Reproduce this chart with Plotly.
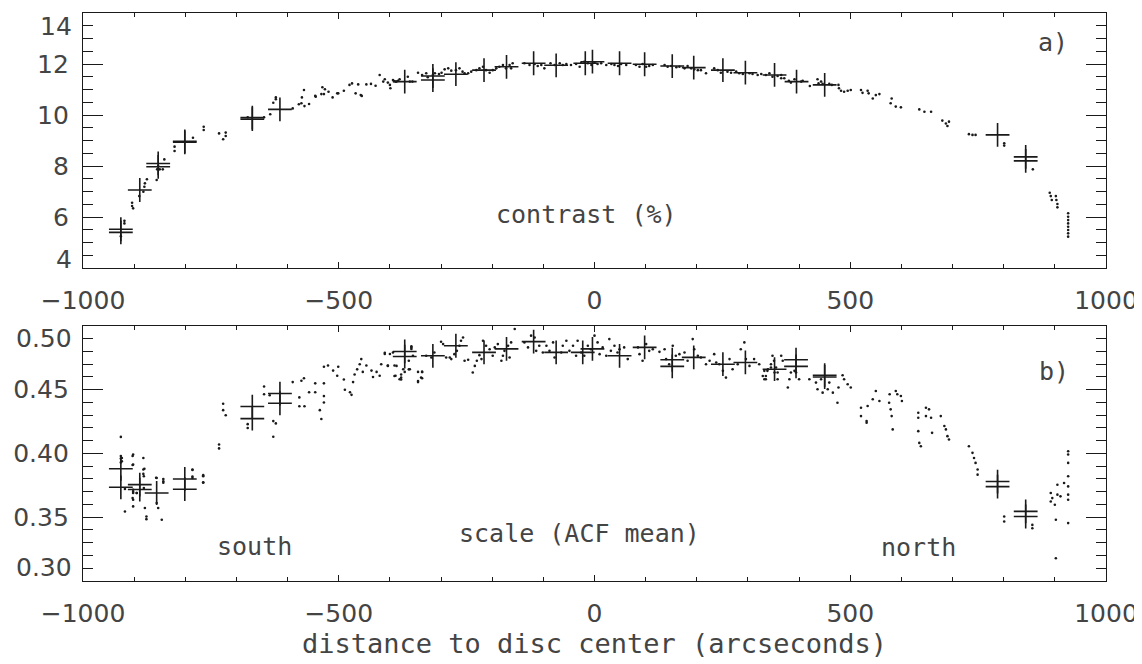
import plotly.graph_objects as go

# ---------------- data: panel a) contrast (%) ----------------
contrast_dot_x = [-919, -919, -926, -904, -904, -902, -890, -882, -880, -879, -875, -856, -855, -850, -844, -853, -841,
                  -821, -821, -785, -764, -764, -734, -721, -721, -726, -678, -646, -634, -628, -623, -623, -590, -578,
                  -573, -567, -558, -572, -568, -546, -545, -534, -529, -532, -527, -520, -512, -503, -501, -490, -479,
                  -474, -467, -462, -457, -455, -446, -437, -428, -420, -413, -404, -399, -392, -387,
                  -410, -400, -394, -389, -384, -381, -365, -361, -356,
                  -345, -337, -329, -326, -316, -312, -304, -299, -293, -286,
                  -280, -271, -264, -258, -254, -247, -241, -231, -225, -218,
                  -212, -205, -199, -192, -186, -179, -173, -166, -160, -163,
                  -137, -127, -117, -111, -104, -98,
                  -86, -78, -68, -62, -55, -46, -36, -29, -26, -20, -13, -6, 0, 6, 13, 23, 33, 39, 46, 52, 62,
                  81, 88, 94, 101, 107, 114,
                  137, 143, 150, 160, 166, 176, 182, 189, 195, 202, 208, 218,
                  234, 241, 247, 260, 267,
                  277, 283, 290, 303, 309, 319, 326, 335, 342, 348, 358,
                  365, 365, 371, 380, 384, 391, 404, 407, 421,
                  436, 438, 443, 446, 459, 464,
                  477, 478, 482, 488, 495, 501,
                  521, 524, 534, 536, 544, 550, 557,
                  581, 579, 589, 599,
                  635, 645, 658,
                  680, 687, 690, 693,
                  732, 739, 745,
                  801, 801, 857,
                  890, 892, 894, 902, 903, 905, 905,
                  926, 926, 926, 926, 926, 926, 926, 926]
contrast_dot_y = [5.85, 5.75, 5.25, 6.56, 6.43, 6.34, 6.82, 6.99, 7.19, 7.32, 7.48, 7.45, 7.87, 7.87, 7.87, 8.0, 8.26,
                  8.76, 8.59, 9.11, 9.54, 9.41, 9.28, 9.31, 9.18, 9.05, 9.91, 9.91, 10.03, 10.48, 10.69, 10.62, 10.26, 10.42,
                  10.46, 10.35, 10.43, 10.69, 10.98, 10.75, 10.72, 10.82, 10.82, 11.09, 11.01, 10.91, 10.69, 10.85, 10.85, 10.95, 11.18,
                  11.24, 10.85, 11.20, 10.78, 10.75, 11.20, 11.22, 11.15, 11.57, 11.31, 11.27, 11.05, 11.33, 11.31,
                  11.40, 11.18, 11.37, 11.31, 11.34, 11.40, 11.50, 11.31, 11.31,
                  11.66, 11.57, 11.64, 11.48, 11.57, 11.64, 11.61, 11.66, 11.79, 11.83,
                  11.74, 11.76, 11.83, 11.70, 11.64, 11.64, 11.70, 11.76, 11.83, 11.89,
                  11.76, 11.66, 11.76, 11.83, 11.89, 11.96, 11.83, 11.96, 12.03, 11.83,
                  12.03, 11.96, 12.00, 11.92, 11.96, 11.83,
                  12.03, 11.96, 12.03, 11.96, 12.00, 11.96, 12.00, 11.89, 12.05, 12.09, 12.03, 11.96, 12.05, 12.00, 12.03, 11.96, 12.00, 11.96, 11.92, 12.00, 11.96,
                  11.96, 11.89, 12.00, 11.89, 11.92, 11.96,
                  11.96, 11.89, 11.92, 11.87, 11.89, 11.83, 11.92, 11.83, 11.79, 11.76, 11.76, 11.64,
                  11.83, 11.76, 11.66, 11.70, 11.66,
                  11.70, 11.64, 11.61, 11.64, 11.61, 11.57, 11.61, 11.57, 11.64, 11.50, 11.53,
                  11.57, 11.44, 11.44, 11.34, 11.27, 11.40, 11.31, 11.34, 11.14,
                  11.40, 11.24, 11.31, 11.22, 11.22, 11.18,
                  11.18, 11.05, 10.95, 10.91, 10.95, 10.98,
                  10.98, 10.87, 10.95, 10.85, 10.65, 10.78, 10.82,
                  10.65, 10.46, 10.33, 10.30,
                  10.22, 10.13, 10.13,
                  9.78, 9.67, 9.57, 9.74,
                  9.25, 9.22, 9.22,
                  8.89, 8.80, 7.87,
                  6.95, 6.82, 6.67, 6.82, 6.67, 6.51, 6.38,
                  6.15, 6.01, 5.88, 5.75, 5.62, 5.49, 5.36, 5.23]

contrast_mean_x = [-926, -926, -889, -853, -853, -801, -801, -669, -669, -615, -371, -316, -316, -271, -216, -172,
                   -119, -75, -18, -4, 49, 98, 152, 194, 251, 295, 352, 395, 450, 788, 843, 843]
contrast_mean_y = [5.52, 5.40, 7.06, 8.10, 7.97, 8.97, 8.93, 9.90, 9.84, 10.22, 11.31, 11.53, 11.37, 11.60, 11.76, 11.89,
                   12.03, 11.95, 12.03, 12.09, 12.03, 11.99, 11.92, 11.86, 11.76, 11.66, 11.57, 11.31, 11.18, 9.22, 8.36, 8.20]

# ---------------- data: panel b) scale (ACF mean) ----------------
scale_dot_x = [-926, -926, -926, -926, -924, -924, -918, -918, -903, -903, -902, -902, -902, -902, -902, -895,
               -882, -882, -881, -881, -879, -876, -876, -880, -882, -902, -902, -903, -895,
               -857, -856, -856, -853, -846, -843, -843, -843,
               -786, -786, -786, -786, -765, -765, -765, -765, -734, -734, -726, -726, -721, -678, -678,
               -646, -646, -635, -628, -623, -628,
               -590, -577, -577, -573, -568, -567, -558, -546, -546, -537, -534, -529, -529, -529,
               -529, -521, -511, -501, -503, -490, -488, -478, -475, -472, -469, -464, -459, -456, -453, -446, -436, -433, -426, -420,
               -410, -400, -404, -391, -389, -378, -378, -371, -363, -358, -358, -345, -337, -345, -337,
               -417, -410, -404, -394, -391, -387, -381, -378, -374, -363, -361, -358, -355, -345, -339, -337,
               -329, -319, -313, -300, -296, -290, -283, -280, -274, -269, -264, -261, -257, -254, -247,
               -238, -234, -230, -225, -221, -218, -212, -205, -199, -195, -189, -182, -179, -176, -169, -166, -163, -156,
               -137, -130, -124, -117, -114, -108, -101, -94, -88, -81, -78, -65, -62, -55, -49, -42, -36, -33, -26, -20,
               -13, -7, 0, 6, 10, 16, 23, 29, 32, 39, 45, 49, 58, 65, 85, 88, 94, 101, 107, 114, 127,
               137, 140, 146, 153, 159, 166, 176, 182, 192, 195, 202, 208, 218, 225, 234, 238, 244, 251, 257, 264,
               270, 280, 286, 293, 296, 303, 312, 322, 332, 335, 338, 345, 351, 358,
               329, 332, 335, 339, 345, 348, 352, 355, 358, 365, 368, 378, 381, 384, 391, 394, 400,
               420, 433, 436, 443, 446, 456, 459, 466, 475, 477, 485, 488, 495, 501,
               521, 521, 532, 532, 534, 544, 550, 557, 576, 577, 579, 581, 583, 589, 592, 599, 601,
               633, 633, 633, 635, 638, 648, 648, 654, 658, 660, 677, 684, 687, 690, 693,
               732, 739, 742, 745, 749, 749, 801, 801, 856, 856,
               892, 892, 895, 900, 905, 905, 902, 902, 911, 918,
               926, 926, 926, 926, 926, 926, 926, 926]
scale_dot_y = [0.413, 0.398, 0.396, 0.393, 0.3965, 0.3939, 0.3721, 0.3545, 0.398, 0.391, 0.3992, 0.3913, 0.3716, 0.3637, 0.3585, 0.3690,
               0.3965, 0.3874, 0.3821, 0.3729, 0.3572, 0.3506, 0.3485, 0.388, 0.384, 0.370, 0.369, 0.365, 0.369,
               0.381, 0.3808, 0.3611, 0.3572, 0.3480, 0.3782, 0.380, 0.377,
               0.3874, 0.3808, 0.387, 0.382, 0.3821, 0.3774, 0.383, 0.377, 0.407, 0.404, 0.439, 0.434, 0.430, 0.423, 0.420,
               0.4525, 0.4465, 0.4457, 0.4254, 0.4236, 0.4131,
               0.456, 0.444, 0.437, 0.457, 0.459, 0.437, 0.448, 0.455, 0.448, 0.434, 0.427, 0.445, 0.440, 0.455,
               0.468, 0.469, 0.465, 0.468, 0.461, 0.458, 0.450, 0.448, 0.446, 0.456, 0.462, 0.466, 0.470, 0.474, 0.464, 0.469, 0.465, 0.460, 0.464, 0.461,
               0.479, 0.478, 0.469, 0.469, 0.461, 0.458, 0.462, 0.464, 0.466, 0.484, 0.482, 0.464, 0.464, 0.456, 0.459,
               0.470, 0.478, 0.4687, 0.4792, 0.4608, 0.4687, 0.4582, 0.4595, 0.4661, 0.4727, 0.4661, 0.4832, 0.4766, 0.4569, 0.4595, 0.4640,
               0.4766, 0.4753, 0.4792, 0.4876, 0.4858, 0.4753, 0.4753, 0.4740, 0.4779, 0.4805, 0.4845, 0.4884, 0.4910, 0.4727, 0.4735,
               0.4635, 0.4687, 0.4727, 0.4771, 0.4740, 0.4884, 0.4845, 0.4818, 0.4766, 0.4832, 0.4858, 0.4727, 0.4766, 0.4805, 0.4845, 0.4753, 0.4871, 0.4976,
               0.4871, 0.4832, 0.4924, 0.4910, 0.4805, 0.4845, 0.4792, 0.4845, 0.4805, 0.4871, 0.4753, 0.4792, 0.4845, 0.4884, 0.4805, 0.4845, 0.4766, 0.4884, 0.4792, 0.4766,
               0.4845, 0.4818, 0.4924, 0.4871, 0.4779, 0.4832, 0.4766, 0.4897, 0.4805, 0.4845, 0.4792, 0.4818, 0.4832, 0.4740, 0.4832, 0.4779, 0.4727, 0.4858, 0.4805, 0.4818, 0.4797,
               0.4818, 0.4740, 0.4700, 0.4845, 0.4766, 0.4779, 0.4792, 0.4727, 0.4897, 0.4818, 0.4766, 0.4753, 0.4700, 0.4727, 0.4779, 0.4714, 0.4700, 0.4648, 0.4595, 0.4740,
               0.4661, 0.4700, 0.4818, 0.4871, 0.4740, 0.4687, 0.4740, 0.4700, 0.4582, 0.4608, 0.4648, 0.4674, 0.4727, 0.4635,
               0.4608, 0.4648, 0.4582, 0.4661, 0.4700, 0.4766, 0.4635, 0.4674, 0.4582, 0.4766, 0.4727, 0.4517, 0.4582, 0.4635, 0.4648, 0.4635, 0.4582,
               0.4582, 0.4556, 0.4504, 0.4582, 0.4477, 0.4504, 0.4556, 0.4477, 0.4398, 0.4517, 0.4614, 0.4582, 0.4543, 0.4517,
               0.4359, 0.4293, 0.4254, 0.4241, 0.4372, 0.4425, 0.4490, 0.4412, 0.4398, 0.4464, 0.4346, 0.4293, 0.4189, 0.4490, 0.4464, 0.4451, 0.4412,
               0.4320, 0.4280, 0.4175, 0.4083, 0.4057, 0.4359, 0.4293, 0.4346, 0.4280, 0.4162, 0.4293, 0.4215, 0.4189, 0.4136, 0.4110,
               0.4057, 0.4005, 0.3965, 0.3926, 0.3874, 0.3834, 0.3506, 0.3467, 0.3440, 0.3414,
               0.3690, 0.3624, 0.3650, 0.3598, 0.3755, 0.3677, 0.3480, 0.3178, 0.3664, 0.3769,
               0.4018, 0.3992, 0.3926, 0.3821, 0.3742, 0.3677, 0.3637, 0.3454]

scale_mean_x = [-926, -926, -889, -889, -856, -801, -801, -669, -669, -615, -615, -371, -371, -316, -271, -216, -172,
                -119, -75, -23, -4, 49, 98, 152, 152, 194, 251, 295, 352, 394, 394, 450, 450, 788, 788, 843, 843]
scale_mean_y = [0.388, 0.3735, 0.3756, 0.3717, 0.369, 0.380, 0.372, 0.4368, 0.4273, 0.447, 0.4394, 0.480, 0.476, 0.4766,
                0.4845, 0.4793, 0.482, 0.4877, 0.4793, 0.4793, 0.482, 0.4766, 0.4832, 0.4735, 0.4683, 0.4754, 0.470,
                0.4714, 0.4661, 0.4735, 0.4683, 0.4614, 0.4600, 0.378, 0.374, 0.3546, 0.3506]

x_ticks = [-1000, -500, 0, 500, 1000]
contrast_ticks = [4, 6, 8, 10, 12, 14]
contrast_ticktext = ["4", "6", "8", "10", "12", "14"]
scale_ticks = [0.30, 0.35, 0.40, 0.45, 0.50]
scale_ticktext = ["0.30", "0.35", "0.40", "0.45", "0.50"]

INK = "#1a1a1a"
TXT = "#444444"
FONT = "DejaVu Sans"
TEXTFONT = "DejaVu Sans Mono"
TICKFONT = dict(family=FONT, size=25, color=TXT)

fig = go.Figure()
dot_marker = dict(symbol="circle", size=2.6, color=INK, line=dict(width=0))
cross_marker = dict(symbol="cross-thin", size=17, color=INK, line=dict(width=1.6, color=INK))

fig.add_trace(go.Scatter(x=contrast_dot_x, y=contrast_dot_y, mode="markers", marker=dot_marker,
                         xaxis="x", yaxis="y", showlegend=False))
fig.add_trace(go.Scatter(x=contrast_mean_x, y=contrast_mean_y, mode="markers", marker=cross_marker,
                         xaxis="x", yaxis="y", showlegend=False))
fig.add_trace(go.Scatter(x=scale_dot_x, y=scale_dot_y, mode="markers", marker=dot_marker,
                         xaxis="x2", yaxis="y2", showlegend=False))
fig.add_trace(go.Scatter(x=scale_mean_x, y=scale_mean_y, mode="markers", marker=cross_marker,
                         xaxis="x2", yaxis="y2", showlegend=False))

def xax(anchor, title=None):
    d = dict(range=[-1000, 1000], tickvals=x_ticks, ticks="inside", ticklen=6, tickwidth=1, tickcolor=INK,
             showline=True, linecolor=INK, linewidth=1.2, mirror="allticks", showgrid=False, zeroline=False,
             tickfont=TICKFONT, ticklabelstandoff=10, anchor=anchor, automargin=False,
             ticklabeloverflow="allow",
             minor=dict(dtick=100, ticks="inside", ticklen=4, tickcolor=INK, showgrid=False))
    if title:
        d["title"] = dict(text=title, font=dict(family=TEXTFONT, size=27, color=TXT), standoff=4)
    return d

def yax(anchor, domain, rng, ticks, texts, mdtick):
    # end labels are drawn separately (nudged inside the box, as in the original)
    shown = [""] + texts[1:-1] + [""]
    return dict(range=rng, domain=domain, tickvals=ticks, ticktext=shown, ticks="inside", ticklen=20,
                tickwidth=1, tickcolor=INK, showline=True, linecolor=INK, linewidth=1.2, mirror="allticks",
                showgrid=False, zeroline=False, tickfont=TICKFONT, ticklabelstandoff=8, anchor=anchor,
                automargin=False, ticklabeloverflow="allow",
                minor=dict(dtick=mdtick, tick0=rng[0], ticks="inside", ticklen=10, tickcolor=INK, showgrid=False))

# the page body adds an 8 px margin, so the figure is 16 px smaller than the window
fig.update_layout(
    width=1134, height=656,
    paper_bgcolor="white", plot_bgcolor="white",
    margin=dict(l=75, r=36, t=5, b=83, autoexpand=False),
    xaxis=xax("y"),
    yaxis=yax("x", [0.551, 1.0], [4, 14], contrast_ticks, contrast_ticktext, 0.5),
    xaxis2=xax("y2", "distance to disc center (arcseconds)"),
    yaxis2=yax("x2", [0.0, 0.449], [0.30, 0.50], scale_ticks, scale_ticktext, 0.01),
    font=dict(family=FONT, color=TXT),
)

# end tick labels, nudged toward the inside of the axis
end_labels = [
    (contrast_ticktext[-1], "y", 1.0, "top", 3),
    (contrast_ticktext[0], "y", 0.0, "bottom", -8),
    (scale_ticktext[-1], "y2", 1.0, "top", 4),
    (scale_ticktext[0], "y2", 0.0, "bottom", -3),
]
for t, yr, yd, yanc, ysh in end_labels:
    fig.add_annotation(text=t, x=0, xref="paper", xanchor="right", xshift=-9,
                       y=yd, yref=yr + " domain", yanchor=yanc, yshift=ysh,
                       showarrow=False, font=TICKFONT)

ann_font = dict(family=TEXTFONT, size=25, color=TXT)
annots = [
    ("contrast (%)", -15, 6.08, "x", "y"),
    ("a)", 896, 12.86, "x", "y"),
    ("b)", 898, 0.4646, "x2", "y2"),
    ("scale (ACF mean)", -29, 0.337, "x2", "y2"),
    ("south", -664, 0.3268, "x2", "y2"),
    ("north", 633, 0.326, "x2", "y2"),
]
for t, ax_, ay_, xr, yr in annots:
    fig.add_annotation(text=t, x=ax_, y=ay_, xref=xr, yref=yr, showarrow=False, font=ann_font,
                       xanchor="center", yanchor="middle")

fig.write_html("out.html")
